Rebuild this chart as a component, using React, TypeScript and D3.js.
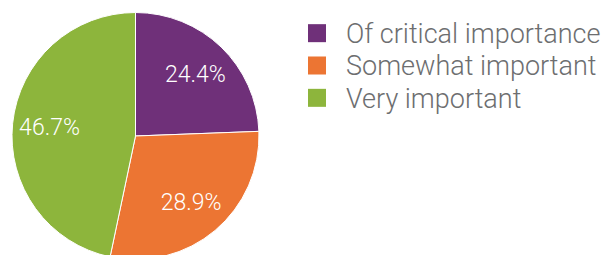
import React, { useRef, useEffect } from 'react';
import * as d3 from 'd3';

const categories = ['Of critical importance', 'Somewhat important', 'Very important'];
const values = [24.4, 28.9, 46.7];
const colors = ['#6f3079', '#ec7533', '#8db53c'];

export default function App() {
  const ref = useRef<SVGSVGElement>(null);
  const width = 602;
  const height = 255;

  useEffect(() => {
    const svgEl = d3.select(ref.current);
    svgEl.selectAll('*').remove();

    const cx = 135.5, cy = 136, radius = 123.5;
    const g = svgEl.append('g').attr('transform', `translate(${cx},${cy})`);

    const pie = d3.pie<number>().value(d => d).sort(null);
    const arc = d3.arc<d3.PieArcDatum<number>>().innerRadius(0).outerRadius(radius);
    const labelArc = d3.arc<d3.PieArcDatum<number>>().innerRadius(radius * 0.7).outerRadius(radius * 0.7);
    const arcs = pie(values);

    g.selectAll('path')
      .data(arcs)
      .enter()
      .append('path')
      .attr('d', arc)
      .attr('fill', (d, i) => colors[i])
      .attr('stroke', '#fff')
      .attr('stroke-width', 1);

    g.selectAll('text.lbl')
      .data(arcs)
      .enter()
      .append('text')
      .attr('class', 'lbl')
      .attr('transform', d => {
        const [x, y] = labelArc.centroid(d);
        return `translate(${x},${y})`;
      })
      .attr('text-anchor', 'middle')
      .attr('dy', '0.35em')
      .attr('fill', '#fff')
      .attr('font-family', 'Roboto')
      .attr('font-weight', 300)
      .attr('font-size', 23)
      .text(d => `${d.data.toFixed(1)}%`);

    // legend
    const legend = svgEl.append('g').attr('transform', 'translate(308,0)');
    const y = d3.scaleBand<string>().domain(categories).range([17, 114]);
    const rows = legend.selectAll('g')
      .data(categories)
      .enter()
      .append('g')
      .attr('transform', d => `translate(0,${(y(d) ?? 0) + y.bandwidth() / 2})`);
    rows.append('rect')
      .attr('x', 0)
      .attr('y', -9)
      .attr('width', 18)
      .attr('height', 18)
      .attr('fill', (d, i) => colors[i]);
    rows.append('text')
      .attr('x', 38)
      .attr('dy', '0.36em')
      .attr('fill', '#6d6e70')
      .attr('font-family', 'Roboto')
      .attr('font-weight', 300)
      .attr('font-size', 27)
      .text(d => d);
  }, []);

  return (
    <svg ref={ref} width={width} height={height}
      style={{ position: 'absolute', left: 0, top: 0, background: '#fff' }} />
  );
}
